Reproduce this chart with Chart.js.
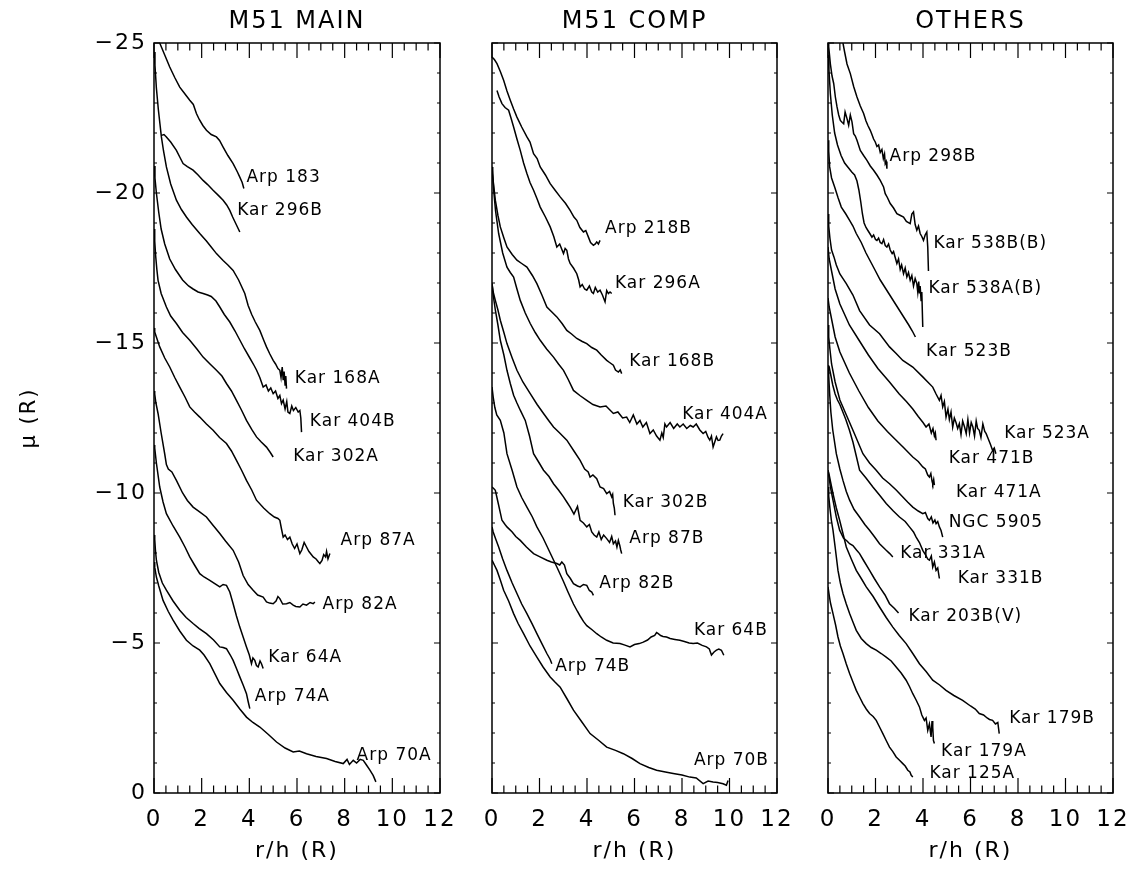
<!DOCTYPE html>
<html>
<head>
<meta charset="utf-8">
<script src="https://cdn.jsdelivr.net/npm/chart.js@4.4.0/dist/chart.umd.min.js"></script>
<style>
  body { margin: 0; background: #fff; width: 1134px; height: 871px; position: relative; overflow: hidden; }
  canvas { position: absolute; top: 0; }
</style>
</head>
<body>
<canvas id="pMain" width="470" height="871" style="left:0px"></canvas>
<canvas id="pComp" width="345" height="871" style="left:462px"></canvas>
<canvas id="pOthers" width="345" height="871" style="left:798px"></canvas>
<script>
// axis ticks
const rTicks = [0, 2, 4, 6, 8, 10, 12];
const muTicks = [-25, -20, -15, -10, -5, 0];

// ---- M51 MAIN ----
const arp183R = [0.24,0.45,0.66,0.87,1.08,1.3,1.5,1.65,1.78,1.9,2.05,2.2,2.4,2.62,2.75,2.9,3.1,3.32,3.5,3.6,3.7,3.77];
const arp183Mu = [-25.0,-24.6,-24.2,-23.85,-23.53,-23.3,-23.09,-22.95,-22.65,-22.45,-22.25,-22.09,-21.95,-21.87,-21.75,-21.53,-21.25,-20.98,-20.7,-20.53,-20.35,-20.15];
const kar296bR = [0.31,0.42,0.52,0.7,0.94,1.08,1.22,1.4,1.64,1.85,2.06,2.25,2.48,2.7,2.9,3.05,3.18,3.3,3.45,3.6];
const kar296bMu = [-21.92,-21.95,-21.87,-21.7,-21.42,-21.2,-20.98,-20.88,-20.76,-20.6,-20.42,-20.28,-20.09,-19.92,-19.76,-19.6,-19.42,-19.2,-18.95,-18.7];
const kar168aR = [0,0.04,0.1,0.18,0.25,0.31,0.4,0.52,0.7,0.94,1.15,1.36,1.6,1.92,2.2,2.4,2.62,2.9,3.1,3.32,3.55,3.81,3.95,4.1,4.25,4.44,4.6,4.72,4.85,5.0,5.1,5.2,5.28,5.33,5.38,5.42,5.46,5.5,5.53,5.56];
const kar168aMu = [-24.7,-24.26,-23.5,-22.8,-22.3,-21.87,-21.4,-20.87,-20.3,-19.76,-19.45,-19.2,-18.95,-18.65,-18.4,-18.2,-17.98,-17.75,-17.6,-17.42,-17.1,-16.65,-16.25,-15.95,-15.7,-15.42,-15.1,-14.87,-14.65,-14.42,-14.3,-14.15,-14.09,-13.85,-14.2,-13.76,-14.05,-13.6,-13.9,-13.48];
const kar404bR = [0,0.04,0.1,0.2,0.3,0.45,0.66,0.9,1.2,1.45,1.64,1.85,2.06,2.25,2.4,2.6,2.76,2.95,3.18,3.4,3.6,3.8,4.02,4.2,4.3,4.44,4.58,4.7,4.8,4.9,5.0,5.1,5.2,5.28,5.35,5.42,5.5,5.57,5.62,5.7,5.78,5.85,5.95,6.05,6.12,6.16,6.19];
const kar404bMu = [-20.9,-20.5,-20.0,-19.35,-18.8,-18.3,-17.8,-17.45,-17.1,-16.9,-16.8,-16.7,-16.65,-16.6,-16.55,-16.4,-16.2,-15.95,-15.7,-15.4,-15.1,-14.8,-14.5,-14.25,-14.1,-13.85,-13.53,-13.6,-13.4,-13.5,-13.31,-13.4,-13.15,-13.25,-12.98,-13.1,-12.8,-13.05,-12.7,-12.65,-12.9,-12.75,-12.85,-12.7,-12.75,-12.5,-12.03];
const kar302aR = [0,0.03,0.07,0.12,0.17,0.3,0.52,0.7,0.94,1.2,1.5,1.8,2.06,2.35,2.62,2.85,3.04,3.25,3.46,3.68,3.88,4.1,4.3,4.5,4.72,4.88,5.0];
const kar302aMu = [-18.8,-18.4,-17.9,-17.45,-17.09,-16.65,-16.2,-15.9,-15.65,-15.35,-15.09,-14.8,-14.53,-14.3,-14.09,-13.9,-13.65,-13.4,-13.09,-12.75,-12.42,-12.12,-11.87,-11.7,-11.53,-11.35,-11.2];
const arp87aR = [0,0.03,0.1,0.24,0.45,0.66,0.87,1.08,1.3,1.5,1.7,1.92,2.2,2.48,2.75,3.04,3.25,3.46,3.68,3.88,4.1,4.3,4.6,4.86,5.05,5.2,5.28,5.35,5.42,5.5,5.6,5.7,5.8,5.9,6.0,6.12,6.2,6.3,6.4,6.5,6.6,6.68,6.8,6.9,6.96,7.05,7.12,7.2,7.24,7.3,7.38];
const arp87aMu = [-15.5,-15.37,-15.2,-14.87,-14.5,-14.2,-13.85,-13.53,-13.2,-12.87,-12.7,-12.53,-12.3,-12.09,-11.85,-11.65,-11.4,-11.09,-10.75,-10.42,-10.1,-9.76,-9.5,-9.31,-9.2,-9.15,-9.09,-8.8,-8.53,-8.6,-8.45,-8.53,-8.3,-8.15,-8.3,-7.98,-8.1,-8.35,-8.2,-8.05,-7.95,-7.87,-7.8,-7.7,-7.65,-7.75,-7.95,-7.87,-8.05,-7.8,-7.98];
const arp82aR = [0,0.03,0.08,0.17,0.3,0.45,0.52,0.6,0.75,0.94,1.2,1.4,1.64,1.9,2.2,2.45,2.76,3.0,3.32,3.55,3.74,3.95,4.16,4.35,4.58,4.72,4.85,5.0,5.12,5.2,5.28,5.4,5.56,5.7,5.84,5.95,6.12,6.25,6.4,6.55,6.68,6.75];
const arp82aMu = [-13.4,-13.3,-13.0,-12.65,-12.0,-11.3,-10.95,-10.8,-10.7,-10.42,-10.0,-9.75,-9.53,-9.38,-9.2,-8.95,-8.65,-8.4,-8.09,-7.7,-7.25,-6.95,-6.76,-6.6,-6.53,-6.37,-6.33,-6.31,-6.4,-6.55,-6.48,-6.3,-6.31,-6.35,-6.26,-6.22,-6.2,-6.3,-6.26,-6.35,-6.31,-6.37];
const kar64aR = [0,0.03,0.1,0.24,0.38,0.52,0.8,1.08,1.3,1.5,1.7,1.92,2.1,2.34,2.55,2.76,2.9,3.04,3.18,3.32,3.46,3.6,3.74,3.88,4.0,4.09,4.15,4.23,4.3,4.37,4.45,4.51,4.58];
const kar64aMu = [-11.6,-11.5,-11.0,-10.2,-9.7,-9.31,-8.9,-8.53,-8.2,-7.87,-7.6,-7.31,-7.2,-7.09,-6.98,-6.87,-6.95,-6.92,-6.7,-6.31,-5.9,-5.53,-5.2,-4.87,-4.6,-4.31,-4.5,-4.42,-4.25,-4.2,-4.4,-4.31,-4.15];
const arp74aR = [0,0.03,0.06,0.1,0.2,0.35,0.52,0.8,1.08,1.35,1.64,1.9,2.2,2.5,2.76,2.9,3.04,3.2,3.32,3.46,3.6,3.74,3.88,3.95,4.02];
const arp74aMu = [-8.6,-8.46,-8.1,-7.76,-7.35,-7.0,-6.76,-6.4,-6.09,-5.85,-5.65,-5.48,-5.31,-5.1,-4.87,-4.85,-4.81,-4.6,-4.42,-4.15,-3.87,-3.6,-3.31,-3.05,-2.81];
const arp70aR = [0,0.03,0.1,0.2,0.38,0.6,0.8,1.08,1.36,1.64,1.92,2.1,2.34,2.55,2.76,3.04,3.32,3.6,3.88,4.15,4.44,4.8,5.14,5.5,5.84,6.1,6.4,6.8,7.24,7.6,7.94,8.1,8.2,8.36,8.5,8.65,8.78,8.9,9.06,9.2,9.31];
const arp70aMu = [-7.7,-7.53,-7.2,-6.9,-6.42,-6.05,-5.76,-5.4,-5.09,-4.9,-4.76,-4.6,-4.31,-3.98,-3.65,-3.35,-3.09,-2.8,-2.53,-2.35,-2.2,-1.95,-1.7,-1.5,-1.37,-1.4,-1.31,-1.22,-1.15,-1.05,-0.98,-1.12,-0.95,-1.09,-1.0,-1.12,-1.09,-0.95,-0.76,-0.58,-0.37];

// ---- M51 COMP ----
const arp218bR = [0,0.1,0.21,0.35,0.49,0.63,0.77,0.91,1.05,1.25,1.47,1.6,1.75,1.9,2.03,2.25,2.45,2.65,2.87,3.1,3.29,3.45,3.57,3.7,3.85,3.95,4.06,4.15,4.27,4.35,4.41,4.48,4.55];
const arp218bMu = [-24.53,-24.45,-24.31,-24.05,-23.76,-23.4,-23.09,-22.8,-22.53,-22.2,-21.87,-21.7,-21.31,-21.15,-20.87,-20.6,-20.31,-20.1,-19.87,-19.65,-19.42,-19.2,-19.09,-18.85,-18.7,-18.75,-18.53,-18.35,-18.26,-18.3,-18.37,-18.3,-18.42];
const kar296aR = [0.21,0.3,0.42,0.55,0.7,0.8,0.91,1.05,1.19,1.33,1.47,1.6,1.75,1.9,2.03,2.25,2.45,2.6,2.73,2.85,3.01,3.08,3.15,3.22,3.29,3.43,3.57,3.65,3.71,3.8,3.9,3.99,4.1,4.2,4.27,4.35,4.45,4.55,4.65,4.76,4.83,4.9,4.97,5.04];
const kar296aMu = [-23.42,-23.2,-22.98,-22.85,-22.76,-22.5,-22.2,-21.8,-21.42,-21.0,-20.65,-20.35,-20.09,-19.8,-19.53,-19.2,-18.87,-18.55,-18.2,-18.3,-17.98,-18.15,-18.09,-17.8,-17.65,-17.5,-17.31,-17.1,-16.87,-16.95,-16.8,-16.76,-16.9,-16.7,-16.65,-16.85,-16.7,-16.76,-16.6,-16.37,-16.75,-16.65,-16.7,-16.65];
const kar168bR = [0,0.05,0.14,0.25,0.35,0.5,0.63,0.85,1.05,1.25,1.47,1.7,1.89,2.1,2.31,2.5,2.73,2.95,3.15,3.35,3.57,3.8,3.99,4.2,4.41,4.6,4.83,4.95,5.11,5.2,5.32,5.4,5.46];
const kar168bMu = [-20.87,-20.4,-19.76,-19.25,-18.87,-18.5,-18.2,-17.95,-17.76,-17.65,-17.53,-17.25,-16.98,-16.6,-16.2,-16.05,-15.87,-15.65,-15.42,-15.3,-15.15,-15.05,-14.98,-14.85,-14.76,-14.6,-14.42,-14.35,-14.26,-14.1,-14.03,-14.1,-13.98];
const kar404aR = [0,0.03,0.07,0.15,0.28,0.45,0.63,0.77,0.91,1.05,1.19,1.4,1.61,1.82,2.03,2.3,2.59,2.8,3.01,3.2,3.43,3.7,3.99,4.25,4.55,4.8,5.11,5.3,5.5,5.67,5.8,5.95,6.1,6.23,6.35,6.5,6.65,6.79,6.93,7.07,7.15,7.21,7.28,7.35,7.5,7.65,7.8,7.91,8.05,8.2,8.35,8.47,8.6,8.75,8.89,9.0,9.1,9.17,9.24,9.31,9.38,9.45,9.52,9.59,9.66,9.73];
const kar404aMu = [-20.87,-20.65,-20.1,-19.4,-18.65,-18.0,-17.53,-17.35,-17.2,-16.8,-16.42,-16.0,-15.65,-15.35,-15.09,-14.8,-14.53,-14.3,-14.09,-13.8,-13.42,-13.25,-13.09,-12.95,-12.87,-12.9,-12.65,-12.7,-12.5,-12.53,-12.35,-12.6,-12.3,-12.42,-12.2,-12.35,-11.98,-12.1,-11.9,-11.76,-12.0,-11.85,-12.3,-12.2,-12.35,-12.15,-12.3,-12.2,-12.3,-12.15,-12.25,-12.2,-12.3,-12.1,-11.98,-12.05,-11.85,-11.76,-11.9,-11.53,-11.7,-11.87,-11.75,-11.76,-11.9,-11.98];
const kar302bR = [0,0.05,0.14,0.25,0.35,0.5,0.63,0.85,1.05,1.3,1.61,1.9,2.17,2.4,2.59,2.85,3.15,3.45,3.71,3.9,4.05,4.13,4.25,4.41,4.5,4.55,4.7,4.83,4.95,5.04,5.08,5.11,5.15,5.18];
const kar302bMu = [-16.98,-16.7,-16.42,-16.1,-15.76,-15.35,-14.98,-14.5,-14.09,-13.7,-13.31,-12.95,-12.65,-12.4,-12.2,-12.0,-11.76,-11.4,-11.09,-10.8,-10.7,-10.53,-10.6,-10.48,-10.3,-10.2,-10.15,-9.98,-10.05,-9.87,-9.95,-9.65,-9.5,-9.26];
const arp87bR = [0,0.05,0.14,0.25,0.35,0.5,0.63,0.77,0.91,1.05,1.19,1.4,1.58,1.75,1.95,2.17,2.4,2.59,2.8,3.01,3.15,3.29,3.45,3.6,3.71,3.85,3.99,4.1,4.2,4.3,4.41,4.5,4.6,4.7,4.83,4.95,5.04,5.11,5.2,5.26,5.32,5.38,5.42,5.46];
const arp87bMu = [-16.98,-16.6,-16.1,-15.6,-15.09,-14.6,-14.09,-13.65,-13.26,-13.0,-12.76,-12.42,-11.9,-11.31,-11.05,-10.76,-10.55,-10.31,-10.1,-9.87,-9.7,-9.53,-9.3,-9.55,-9.09,-9.0,-8.87,-8.95,-8.7,-8.6,-8.53,-8.7,-8.45,-8.6,-8.48,-8.35,-8.55,-8.31,-8.4,-8.2,-8.42,-8.25,-8.1,-7.98];
const arp82bR = [0,0.07,0.14,0.25,0.42,0.55,0.63,0.85,1.0,1.19,1.45,1.75,2.0,2.31,2.5,2.73,2.85,2.94,3.05,3.15,3.3,3.43,3.6,3.71,3.85,3.99,4.1,4.2,4.27];
const arp82bMu = [-10.2,-10.15,-10.09,-9.7,-9.09,-8.95,-8.87,-8.7,-8.55,-8.42,-8.2,-7.98,-7.88,-7.76,-7.7,-7.65,-7.6,-7.7,-7.6,-7.31,-7.15,-6.98,-6.9,-6.87,-6.95,-6.92,-6.75,-6.7,-6.59];
const kar64bR = [0,0.05,0.12,0.2,0.35,0.5,0.63,0.85,1.05,1.25,1.47,1.7,1.89,2.15,2.45,2.75,3.01,3.2,3.43,3.6,3.71,3.85,3.99,4.2,4.41,4.6,4.83,5.1,5.39,5.6,5.81,6.0,6.2,6.37,6.55,6.7,6.85,6.93,7.0,7.1,7.2,7.35,7.5,7.7,7.91,8.1,8.3,8.47,8.65,8.85,9.03,9.15,9.24,9.35,9.45,9.55,9.66,9.76];
const kar64bMu = [-13.53,-13.2,-12.85,-12.6,-12.42,-12.0,-11.31,-10.75,-10.2,-9.85,-9.53,-9.2,-8.87,-8.5,-8.0,-7.5,-7.05,-6.7,-6.3,-6.05,-5.9,-5.72,-5.58,-5.45,-5.31,-5.2,-5.09,-5.0,-4.98,-4.93,-4.87,-4.95,-4.98,-5.03,-5.1,-5.2,-5.25,-5.35,-5.31,-5.25,-5.22,-5.2,-5.15,-5.12,-5.09,-5.05,-5.0,-4.98,-5.0,-4.92,-4.87,-4.8,-4.6,-4.7,-4.76,-4.8,-4.76,-4.59];
const arp74bR = [0,0.05,0.14,0.28,0.45,0.63,0.85,1.05,1.25,1.47,1.7,1.89,2.1,2.31,2.45,2.52];
const arp74bMu = [-8.87,-8.7,-8.5,-8.2,-7.8,-7.42,-7.0,-6.65,-6.3,-5.98,-5.62,-5.31,-4.98,-4.65,-4.45,-4.31];
const arp70bR = [0,0.1,0.21,0.35,0.49,0.7,0.91,1.1,1.33,1.6,1.89,2.15,2.45,2.65,2.87,3.15,3.43,3.8,4.13,4.5,4.83,5.2,5.53,5.9,6.23,6.6,6.93,7.3,7.63,8.0,8.33,8.6,8.89,9.1,9.31,9.5,9.73,9.87,9.94];
const arp70bMu = [-7.76,-7.6,-7.42,-7.1,-6.76,-6.4,-5.98,-5.65,-5.31,-4.9,-4.53,-4.2,-3.87,-3.7,-3.53,-3.15,-2.76,-2.35,-1.98,-1.75,-1.53,-1.42,-1.31,-1.15,-0.98,-0.85,-0.76,-0.7,-0.65,-0.6,-0.53,-0.5,-0.31,-0.4,-0.37,-0.35,-0.31,-0.26,-0.42];

// ---- OTHERS ----
const arp298bR = [0.63,0.7,0.8,0.94,1.08,1.22,1.36,1.5,1.6,1.68,1.78,1.85,1.92,1.99,2.06,2.13,2.2,2.27,2.33,2.38,2.41,2.45,2.48];
const arp298bMu = [-25.0,-24.7,-24.3,-23.98,-23.55,-23.2,-22.9,-22.65,-22.4,-22.25,-22.09,-21.95,-21.8,-21.7,-21.55,-21.6,-21.35,-21.45,-21.15,-21.3,-20.98,-21.05,-20.81];
const kar538bR = [0,0.03,0.1,0.17,0.24,0.31,0.38,0.45,0.52,0.6,0.66,0.72,0.8,0.87,0.94,1.01,1.08,1.15,1.22,1.36,1.5,1.64,1.78,1.92,2.06,2.2,2.34,2.41,2.5,2.62,2.76,2.9,3.05,3.18,3.3,3.46,3.53,3.6,3.67,3.74,3.81,3.88,3.95,4.02,4.09,4.16,4.2,4.23];
const kar538bMu = [-25.0,-24.87,-24.3,-23.9,-23.65,-23.2,-22.87,-22.6,-22.42,-22.35,-22.31,-22.7,-22.48,-22.26,-22.6,-22.37,-21.98,-21.9,-21.76,-21.42,-21.25,-21.09,-20.9,-20.76,-20.6,-20.42,-20.2,-19.98,-19.85,-19.65,-19.5,-19.31,-19.25,-19.2,-19.05,-18.98,-19.3,-19.37,-18.95,-18.76,-18.9,-18.65,-18.55,-18.42,-18.6,-18.7,-18.2,-17.4];
const kar538aR = [0,0.04,0.1,0.18,0.28,0.4,0.55,0.7,0.85,1.0,1.12,1.22,1.3,1.38,1.45,1.52,1.6,1.68,1.76,1.85,1.92,2.0,2.06,2.13,2.2,2.27,2.34,2.41,2.48,2.55,2.62,2.7,2.76,2.83,2.9,2.97,3.04,3.1,3.18,3.25,3.32,3.39,3.46,3.53,3.6,3.67,3.74,3.78,3.82,3.85,3.88,3.92,3.95,3.99];
const kar538aMu = [-24.6,-24.1,-23.3,-22.6,-22.0,-21.6,-21.25,-21.0,-20.85,-20.7,-20.6,-20.4,-20.1,-19.7,-19.3,-19.0,-18.85,-18.75,-18.65,-18.53,-18.6,-18.45,-18.42,-18.5,-18.35,-18.31,-18.45,-18.25,-18.2,-18.3,-18.1,-17.98,-18.05,-17.85,-17.65,-17.8,-17.45,-17.6,-17.31,-17.5,-17.2,-17.35,-17.09,-17.25,-16.9,-17.15,-16.98,-16.7,-17.05,-16.65,-16.9,-16.42,-16.7,-15.53];
const kar523bR = [0,0.03,0.07,0.15,0.28,0.42,0.56,0.75,0.91,1.05,1.19,1.4,1.6,1.8,2.0,2.2,2.4,2.6,2.8,3.0,3.2,3.4,3.55,3.68];
const kar523bMu = [-21.76,-21.4,-20.87,-20.5,-20.2,-19.85,-19.53,-19.3,-19.09,-18.9,-18.65,-18.35,-18.0,-17.7,-17.4,-17.1,-16.85,-16.6,-16.35,-16.1,-15.85,-15.6,-15.4,-15.2];
const kar523aR = [0,0.03,0.08,0.15,0.25,0.35,0.5,0.77,1.05,1.33,1.75,2.17,2.59,2.87,3.15,3.57,3.99,4.2,4.41,4.55,4.69,4.76,4.83,4.9,4.97,5.05,5.11,5.18,5.25,5.32,5.39,5.46,5.53,5.6,5.67,5.75,5.82,5.89,5.96,6.03,6.1,6.17,6.24,6.3,6.37,6.44,6.52,6.6,6.66,6.75,6.85,6.93,7.0,7.07];
const kar523aMu = [-19.3,-18.9,-18.5,-18.1,-17.87,-17.6,-17.3,-16.98,-16.6,-16.08,-15.6,-15.31,-14.87,-14.65,-14.42,-14.2,-13.87,-13.7,-13.53,-13.3,-13.09,-13.25,-12.87,-13.05,-12.53,-12.8,-12.45,-12.7,-12.2,-12.5,-12.35,-12.15,-12.31,-11.95,-12.4,-12.2,-11.98,-12.45,-12.0,-12.35,-12.2,-11.9,-12.4,-12.15,-12.09,-11.85,-12.3,-12.05,-11.98,-11.8,-11.6,-11.42,-11.5,-11.31];
const kar471bR = [0,0.05,0.15,0.3,0.5,0.9,1.3,1.7,2.1,2.59,3.0,3.3,3.57,3.8,4.0,4.13,4.25,4.35,4.42,4.48,4.52,4.55];
const kar471bMu = [-18.2,-17.8,-17.4,-16.8,-16.3,-15.6,-15.1,-14.6,-14.15,-13.7,-13.3,-13.05,-12.8,-12.55,-12.35,-12.2,-12.3,-12.0,-12.15,-11.9,-12.0,-11.76];
const kar471aR = [0,0.05,0.15,0.3,0.5,0.9,1.3,1.7,2.1,2.5,2.87,3.2,3.57,3.8,3.99,4.1,4.2,4.27,4.33,4.38,4.41,4.45,4.48];
const kar471aMu = [-16.5,-16.2,-15.8,-15.2,-14.7,-14.0,-13.4,-12.85,-12.4,-12.05,-11.76,-11.5,-11.2,-11.05,-10.87,-10.8,-10.6,-10.53,-10.65,-10.4,-10.31,-10.45,-10.26];
const ngc5905R = [0,0.03,0.08,0.15,0.3,0.5,0.8,1.1,1.47,1.75,2.03,2.3,2.59,2.87,3.15,3.35,3.57,3.8,3.99,4.1,4.2,4.27,4.35,4.42,4.5,4.55,4.62,4.69,4.76,4.83];
const ngc5905Mu = [-15.6,-15.2,-14.8,-14.3,-13.7,-13.1,-12.55,-12.0,-11.31,-11.0,-10.76,-10.5,-10.31,-10.1,-9.87,-9.7,-9.53,-9.4,-9.31,-9.35,-9.15,-9.09,-9.2,-9.0,-9.1,-8.98,-9.05,-8.87,-8.75,-8.53];
const kar331aR = [0,0.03,0.07,0.12,0.2,0.35,0.5,0.63,0.77,0.91,1.1,1.33,1.55,1.75,1.95,2.17,2.45,2.6,2.73];
const kar331aMu = [-14.25,-13.9,-13.3,-12.7,-12.1,-11.31,-10.8,-10.42,-10.05,-9.76,-9.45,-9.2,-8.95,-8.76,-8.55,-8.31,-8.09,-7.98,-7.87];
const kar331bR = [0,0.05,0.1,0.2,0.3,0.4,0.5,0.6,0.75,0.9,1.05,1.2,1.33,1.6,1.89,2.15,2.45,2.75,3.01,3.25,3.43,3.6,3.71,3.85,3.99,4.1,4.2,4.27,4.35,4.41,4.48,4.55,4.62,4.69];
const kar331bMu = [-14.25,-14.2,-14.0,-13.6,-13.3,-13.1,-12.95,-12.75,-12.45,-12.1,-11.7,-11.2,-10.76,-10.5,-10.2,-9.95,-9.65,-9.4,-9.2,-9.05,-8.87,-8.7,-8.53,-8.35,-8.09,-7.95,-7.8,-7.76,-7.9,-7.53,-7.7,-7.42,-7.5,-7.15];
const kar203bR = [0,0.05,0.1,0.21,0.35,0.49,0.65,0.8,0.91,1.05,1.2,1.33,1.5,1.75,1.95,2.17,2.4,2.59,2.8,2.97];
const kar203bMu = [-10.76,-10.5,-10.2,-9.76,-9.2,-8.76,-8.5,-8.4,-8.31,-8.25,-8.1,-7.98,-7.75,-7.42,-7.15,-6.87,-6.6,-6.31,-6.15,-6.0];
const kar179bR = [0,0.05,0.1,0.21,0.35,0.49,0.63,0.77,0.98,1.19,1.4,1.61,1.9,2.17,2.45,2.73,3.0,3.29,3.57,3.85,4.13,4.41,4.7,4.97,5.3,5.67,6.0,6.2,6.37,6.55,6.7,6.8,6.93,7.05,7.15,7.21];
const kar179bMu = [-10.76,-10.6,-10.4,-9.98,-9.5,-9.09,-8.65,-8.2,-7.8,-7.42,-7.15,-6.87,-6.55,-6.2,-5.85,-5.53,-5.25,-4.98,-4.65,-4.31,-4.05,-3.76,-3.6,-3.42,-3.25,-3.09,-2.9,-2.8,-2.65,-2.6,-2.5,-2.45,-2.42,-2.3,-2.35,-1.98];
const kar179aR = [0,0.03,0.08,0.14,0.21,0.3,0.42,0.52,0.63,0.77,0.91,1.05,1.19,1.4,1.61,1.82,2.03,2.24,2.45,2.66,2.87,3.08,3.29,3.43,3.57,3.71,3.85,3.95,4.06,4.13,4.2,4.27,4.34,4.38,4.41,4.44,4.48];
const kar179aMu = [-10.2,-9.9,-9.5,-9.1,-8.76,-8.2,-7.42,-7.0,-6.65,-6.3,-5.98,-5.7,-5.42,-5.15,-4.98,-4.85,-4.76,-4.65,-4.53,-4.4,-4.2,-4.0,-3.76,-3.55,-3.31,-3.1,-2.87,-2.6,-2.42,-2.5,-2.09,-2.3,-1.87,-2.4,-2.2,-1.75,-1.65];
const kar125aR = [0,0.05,0.1,0.21,0.32,0.42,0.52,0.63,0.77,0.91,1.05,1.19,1.33,1.47,1.61,1.75,1.9,2.03,2.17,2.31,2.45,2.59,2.73,2.87,3.0,3.15,3.25,3.36,3.45,3.5,3.57];
const kar125aMu = [-6.87,-6.6,-6.35,-5.98,-5.6,-5.2,-4.9,-4.65,-4.3,-3.98,-3.7,-3.42,-3.2,-2.98,-2.8,-2.65,-2.55,-2.42,-2.2,-1.98,-1.75,-1.53,-1.38,-1.2,-1.1,-0.98,-0.9,-0.76,-0.7,-0.6,-0.53];

// curve lists per panel: [name, r, mu]
const mainCurves = [
  ['Arp 183', arp183R, arp183Mu], ['Kar 296B', kar296bR, kar296bMu], ['Kar 168A', kar168aR, kar168aMu],
  ['Kar 404B', kar404bR, kar404bMu], ['Kar 302A', kar302aR, kar302aMu], ['Arp 87A', arp87aR, arp87aMu],
  ['Arp 82A', arp82aR, arp82aMu], ['Kar 64A', kar64aR, kar64aMu], ['Arp 74A', arp74aR, arp74aMu],
  ['Arp 70A', arp70aR, arp70aMu]
];
const compCurves = [
  ['Arp 218B', arp218bR, arp218bMu], ['Kar 296A', kar296aR, kar296aMu], ['Kar 168B', kar168bR, kar168bMu],
  ['Kar 404A', kar404aR, kar404aMu], ['Kar 302B', kar302bR, kar302bMu], ['Arp 87B', arp87bR, arp87bMu],
  ['Arp 82B', arp82bR, arp82bMu], ['Kar 64B', kar64bR, kar64bMu], ['Arp 74B', arp74bR, arp74bMu],
  ['Arp 70B', arp70bR, arp70bMu]
];
const otherCurves = [
  ['Arp 298B', arp298bR, arp298bMu], ['Kar 538B(B)', kar538bR, kar538bMu], ['Kar 538A(B)', kar538aR, kar538aMu],
  ['Kar 523B', kar523bR, kar523bMu], ['Kar 523A', kar523aR, kar523aMu], ['Kar 471B', kar471bR, kar471bMu],
  ['Kar 471A', kar471aR, kar471aMu], ['NGC 5905', ngc5905R, ngc5905Mu], ['Kar 331A', kar331aR, kar331aMu],
  ['Kar 331B', kar331bR, kar331bMu], ['Kar 203B(V)', kar203bR, kar203bMu], ['Kar 179B', kar179bR, kar179bMu],
  ['Kar 179A', kar179aR, kar179aMu], ['Kar 125A', kar125aR, kar125aMu]
];

// where each name sits (left edge of text), in data units
const mainTagR = [3.88, 3.49, 5.91, 6.54, 5.84, 7.83, 7.07, 4.79, 4.23, 8.5];
const mainTagMu = [-20.51, -19.42, -13.82, -12.37, -11.2, -8.42, -6.29, -4.5, -3.2, -1.26];
const compTagR = [4.76, 5.18, 5.78, 8.01, 5.5, 5.78, 4.52, 8.5, 2.66, 8.5];
const compTagMu = [-18.81, -16.98, -14.37, -12.62, -9.67, -8.48, -6.98, -5.42, -4.2, -1.09];
const otherTagR = [2.59, 4.44, 4.23, 4.13, 7.42, 5.08, 5.39, 5.08, 3.04, 5.46, 3.39, 7.63, 4.76, 4.27];
const otherTagMu = [-21.2, -18.31, -16.81, -14.7, -11.98, -11.15, -10.03, -9.03, -7.98, -7.15, -5.87, -2.48, -1.37, -0.65];

const FONT = '"DejaVu Sans", "Liberation Sans", sans-serif';

// wide letter spacing like the old vector font
const spacing = {
  id: 'spacing',
  beforeLayout(chart) { chart.ctx.letterSpacing = '2px'; },
  beforeDraw(chart) { chart.ctx.letterSpacing = '2px'; }
};

// box and inward ticks on all four sides
const frameTicks = {
  id: 'frameTicks',
  afterDatasetsDraw(chart) {
    const { ctx, chartArea: a, scales: { x, y } } = chart;
    ctx.save();
    ctx.strokeStyle = '#000';
    ctx.lineWidth = 1.5;
    ctx.strokeRect(a.left, a.top, a.right - a.left, a.bottom - a.top);
    ctx.lineWidth = 1.2;
    ctx.beginPath();
    for (let v = 0; v <= 12; v += 0.5) {
      const px = x.getPixelForValue(v);
      const len = rTicks.includes(v) ? 15 : 7.5;
      ctx.moveTo(px, a.bottom); ctx.lineTo(px, a.bottom - len);
      ctx.moveTo(px, a.top); ctx.lineTo(px, a.top + len);
    }
    for (let v = -25; v <= 0; v += 1) {
      const py = y.getPixelForValue(v);
      const len = muTicks.includes(v) ? 6 : 3;
      ctx.moveTo(a.left, py); ctx.lineTo(a.left + len, py);
      ctx.moveTo(a.right, py); ctx.lineTo(a.right - len, py);
    }
    ctx.stroke();
    ctx.restore();
  }
};

// galaxy names next to each profile
const curveLabels = {
  id: 'curveLabels',
  afterDatasetsDraw(chart) {
    const { ctx, scales: { x, y } } = chart;
    ctx.save();
    ctx.font = '17px ' + FONT;
    ctx.fillStyle = '#000';
    ctx.textAlign = 'left';
    ctx.textBaseline = 'middle';
    ctx.letterSpacing = '1px';
    chart.data.datasets.forEach(ds => {
      ctx.fillText(ds.label, x.getPixelForValue(ds.tagR), y.getPixelForValue(ds.tagMu));
    });
    ctx.restore();
  }
};

function makePanel(id, title, curves, tagR, tagMu, showY) {
  const datasets = curves.map((c, i) => ({
    label: c[0],
    data: c[1].map((r, j) => ({ x: r, y: c[2][j] })),
    tagR: tagR[i],
    tagMu: tagMu[i],
    borderColor: '#000',
    borderWidth: 1.5,
    pointRadius: 0,
    tension: 0,
    fill: false
  }));

  new Chart(document.getElementById(id), {
    type: 'line',
    data: { datasets },
    options: {
      responsive: false,
      animation: false,
      events: [],
      layout: { padding: { left: showY ? 0 : 30, right: 30, top: 0, bottom: 0 } },
      plugins: {
        legend: { display: false },
        tooltip: { enabled: false },
        title: {
          display: true, text: title, fullSize: false, color: '#000',
          font: { family: FONT, size: 24, weight: 'normal', lineHeight: 1.2 },
          padding: { top: 7, bottom: 7.2 }
        }
      },
      scales: {
        x: {
          type: 'linear', min: 0, max: 12,
          afterBuildTicks: s => { s.ticks = rTicks.map(v => ({ value: v })); },
          afterFit: s => { s.height = 78; },
          grid: { display: false, drawTicks: false },
          border: { display: false },
          ticks: { color: '#000', autoSkip: false, maxRotation: 0, padding: 13,
                   font: { family: FONT, size: 23, weight: 'normal', lineHeight: 1.2 } },
          title: { display: true, text: 'r/h (R)', color: '#000',
                   font: { family: FONT, size: 22, weight: 'normal', lineHeight: 1.2 },
                   padding: { top: 0, bottom: 7 } }
        },
        y: {
          type: 'linear', min: -25, max: 0, reverse: true, display: showY,
          afterBuildTicks: s => { s.ticks = muTicks.map(v => ({ value: v })); },
          afterFit: s => { s.width = showY ? 154 : 0; },
          grid: { display: false, drawTicks: false },
          border: { display: false },
          ticks: { color: '#000', padding: 7,
                   font: { family: FONT, size: 22, weight: 'normal', lineHeight: 1.2 },
                   callback: v => v === 0 ? '0' : '\u2212' + Math.abs(v) },
          title: { display: true, text: 'μ (R)', color: '#000',
                   font: { family: FONT, size: 21, weight: 'normal', lineHeight: 1.2 },
                   padding: { top: 17, bottom: 0 } }
        }
      }
    },
    plugins: [spacing, frameTicks, curveLabels]
  });
}

makePanel('pMain', 'M51 MAIN', mainCurves, mainTagR, mainTagMu, true);
makePanel('pComp', 'M51 COMP', compCurves, compTagR, compTagMu, false);
makePanel('pOthers', 'OTHERS', otherCurves, otherTagR, otherTagMu, false);
</script>
</body>
</html>
